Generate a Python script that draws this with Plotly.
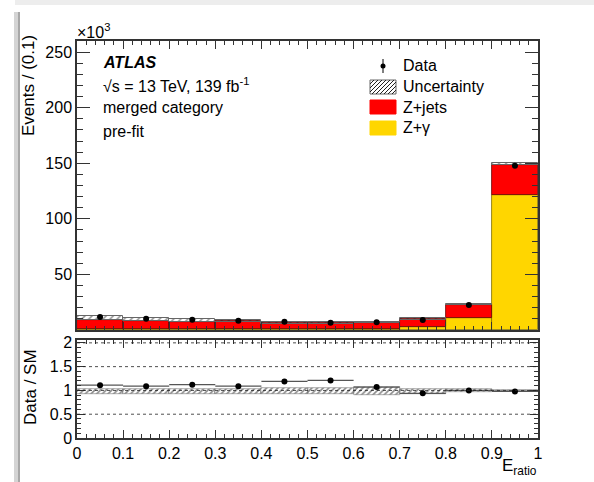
import plotly.graph_objects as go

# ---------------- data (values in thousands of events) ----------------
bin_centers = [0.05, 0.15, 0.25, 0.35, 0.45, 0.55, 0.65, 0.75, 0.85, 0.95]
zgamma = [0.7, 0.6, 0.6, 0.6, 0.6, 0.7, 0.9, 2.7, 11.1, 121.9]
zjets = [8.3, 7.5, 6.6, 7.1, 5.4, 5.3, 5.7, 6.9, 11.4, 26.7]
unc_lo = [8.6, 7.7, 6.8, 7.3, 5.6, 5.6, 6.2, 9.2, 22.1, 148.0]
unc_hi = [12.3, 10.8, 9.6, 8.6, 7.5, 7.0, 7.2, 10.5, 23.4, 149.8]
data = [11.7, 10.2, 9.3, 8.4, 7.5, 6.6, 6.9, 9.0, 22.5, 147.7]

ratio = [1.11, 1.09, 1.12, 1.09, 1.19, 1.21, 1.07, 0.94, 1.00, 0.98]
ratio_lo = [0.93, 0.93, 0.93, 0.93, 0.92, 0.92, 0.91, 0.93, 0.97, 0.98]
ratio_hi = [1.04, 1.04, 1.04, 1.04, 1.05, 1.05, 1.07, 1.02, 1.02, 1.01]

main_yticks = [50, 100, 150, 200, 250]
ratio_yticks = [0, 0.5, 1, 1.5, 2]
ratio_ylabels = ["0", "0.5", "1", "1.5", "2"]
xticks = [0, 0.1, 0.2, 0.3, 0.4, 0.5, 0.6, 0.7, 0.8, 0.9, 1.0]
xlabels = ["0", "0.1", "0.2", "0.3", "0.4", "0.5", "0.6", "0.7", "0.8", "0.9", "1"]

legend_labels = ["Data", "Uncertainty", "Z+jets", "Z+γ"]

# ---------------- styling ----------------
RED = "#FF0000"
YELLOW = "#FFD600"
FONT = "Liberation Sans, Arial, sans-serif"
W, H = 594, 482
ML, MR, MT, MB = 77, 56, 41, 44
PW, PH = W - ML - MR, H - MT - MB


def px(xp):
    return (xp - ML) / PW


def py(yp):
    return (H - MB - yp) / PH


fig = go.Figure()

zjets_base = list(zgamma)
hatch = dict(shape="/", fgcolor="#222", bgcolor="rgba(0,0,0,0)", size=5,
             solidity=0.3, fillmode="overlay")

fig.add_trace(go.Bar(x=bin_centers, y=zgamma, base=[0] * len(zgamma), width=0.1,
                     marker=dict(color=YELLOW, line=dict(color="#7a6a00", width=0.8)),
                     xaxis="x", yaxis="y", showlegend=False))
fig.add_trace(go.Bar(x=bin_centers, y=zjets, base=zjets_base, width=0.1,
                     marker=dict(color=RED, line=dict(color="#660000", width=0.8)),
                     xaxis="x", yaxis="y", showlegend=False))
fig.add_trace(go.Bar(x=bin_centers, y=[h - l for h, l in zip(unc_hi, unc_lo)], base=unc_lo,
                     width=0.1,
                     marker=dict(color="rgba(120,120,120,0.3)", pattern=hatch,
                                 line=dict(color="#666", width=1)),
                     xaxis="x", yaxis="y", showlegend=False))
fig.add_trace(go.Scatter(x=bin_centers, y=data, mode="markers",
                         marker=dict(color="black", size=6),
                         xaxis="x", yaxis="y", showlegend=False))

# ratio panel
fig.add_trace(go.Bar(x=bin_centers, y=[h - l for h, l in zip(ratio_hi, ratio_lo)], base=ratio_lo,
                     width=0.1,
                     marker=dict(color="rgba(0,0,0,0)",
                                 pattern=dict(shape="/", fgcolor="#111", bgcolor="rgba(0,0,0,0)",
                                              size=4, solidity=0.4, fillmode="overlay"),
                                 line=dict(color="#777", width=0.6)),
                     xaxis="x2", yaxis="y2", showlegend=False))
fig.add_trace(go.Scatter(x=bin_centers, y=ratio, mode="markers",
                         marker=dict(color="black", size=6),
                         error_x=dict(type="constant", value=0.05, color="#555", thickness=1.3, width=0),
                         xaxis="x2", yaxis="y2", showlegend=False))

fig.update_layout(barmode="overlay", bargap=0)

ax_common = dict(showline=True, linecolor="#333", linewidth=1.5, mirror="allticks",
                 ticks="inside", tickcolor="#333", showgrid=False, zeroline=False,
                 tickfont=dict(family=FONT, size=16, color="black"))

d_main = (H - MB - 330) / PH
d_ratio = (H - MB - 340) / PH

fig.update_layout(
    width=W, height=H,
    margin=dict(l=ML, r=MR, t=MT, b=MB),
    paper_bgcolor="white", plot_bgcolor="white",
    font=dict(family=FONT, color="black"),
    xaxis=dict(ax_common, domain=[0, 1], range=[0, 1], anchor="y", tickvals=xticks,
               showticklabels=False, ticklen=8,
               minor=dict(dtick=0.02, tick0=0, ticks="inside", ticklen=4, tickcolor="#333")),
    yaxis=dict(ax_common, domain=[d_main, 1], range=[0, 260], anchor="x",
               tickvals=main_yticks, ticklen=13,
               minor=dict(dtick=10, tick0=0, ticks="inside", ticklen=6, tickcolor="#333")),
    xaxis2=dict(ax_common, domain=[0, 1], range=[0, 1], anchor="y2", tickvals=xticks,
                ticktext=xlabels, ticklen=8,
                minor=dict(dtick=0.02, tick0=0, ticks="inside", ticklen=4, tickcolor="#333")),
    yaxis2=dict(ax_common, domain=[0, d_ratio], range=[0, 2.06], anchor="x2",
                tickvals=ratio_yticks, ticktext=ratio_ylabels, ticklen=8,
                minor=dict(dtick=0.1, tick0=0, ticks="inside", ticklen=4, tickcolor="#333")),
)

shapes = []
# dotted reference lines in ratio panel
for yv in [0.5, 1.0, 1.5, 2.0]:
    shapes.append(dict(type="line", xref="x2", yref="y2", x0=0, x1=1, y0=yv, y1=yv,
                       line=dict(color="#222", width=0.8, dash="dot")))

# page decoration (window shadow)
shapes.append(dict(type="rect", xref="paper", yref="paper", x0=px(15), x1=px(W), y0=py(0), y1=py(5),
                   fillcolor="#ededed", line=dict(width=0), layer="below"))
shapes.append(dict(type="rect", xref="paper", yref="paper", x0=px(14), x1=px(20), y0=py(H), y1=py(12),
                   fillcolor="#d4d4d4", line=dict(width=0), layer="below"))
shapes.append(dict(type="line", xref="paper", yref="paper", x0=px(19), x1=px(19), y0=py(H), y1=py(12),
                   line=dict(color="#9a9a9a", width=1.5), layer="below"))

# legend boxes
bx0, bx1 = 370, 396
leg_y = [66, 87, 107, 128]
uy0, uy1 = leg_y[1] - 7, leg_y[1] + 7
shapes.append(dict(type="rect", xref="paper", yref="paper", x0=px(bx0), x1=px(bx1), y0=py(uy1), y1=py(uy0),
                   fillcolor="white", line=dict(color="#666", width=1)))
step = 4
k = bx0 - (uy1 - uy0)
while k < bx1:
    xa, ya = k, uy1
    xb, yb = k + (uy1 - uy0), uy0
    if xa < bx0:
        ya = uy1 - (bx0 - xa)
        xa = bx0
    if xb > bx1:
        yb = uy0 + (xb - bx1)
        xb = bx1
    if xb > xa:
        shapes.append(dict(type="line", xref="paper", yref="paper", x0=px(xa), y0=py(ya),
                           x1=px(xb), y1=py(yb), line=dict(color="#222", width=1)))
    k += step
for yc, col in [(leg_y[2], RED), (leg_y[3], YELLOW)]:
    shapes.append(dict(type="rect", xref="paper", yref="paper", x0=px(bx0), x1=px(bx1),
                       y0=py(yc + 7), y1=py(yc - 7), fillcolor=col, line=dict(color=col, width=1)))
shapes.append(dict(type="line", xref="paper", yref="paper", x0=px(383), x1=px(383),
                   y0=py(leg_y[0] + 7), y1=py(leg_y[0] - 7), line=dict(color="black", width=1)))
shapes.append(dict(type="circle", xref="paper", yref="paper", x0=px(380.5), x1=px(385.5),
                   y0=py(leg_y[0] + 2.5), y1=py(leg_y[0] - 2.5), fillcolor="black",
                   line=dict(color="black", width=0)))
fig.update_layout(shapes=shapes)

ann = []


def text(x, y, s, size=16, xanchor="left", yanchor="middle", angle=0):
    ann.append(dict(xref="paper", yref="paper", x=px(x), y=py(y), text=s, showarrow=False,
                    xanchor=xanchor, yanchor=yanchor, textangle=angle,
                    font=dict(family=FONT, size=size, color="black")))


text(101, 62, "<b><i>ATLAS</i></b>", size=16)
text(101, 85, "√s = 13 TeV, 139 fb<sup>-1</sup>", size=16)
text(101, 108, "merged category", size=16)
text(101, 131, "pre-fit", size=16)
text(75, 43, "×10<sup>3</sup>", size=16, yanchor="bottom")
for lab, yy in zip(legend_labels, leg_y):
    text(401, yy, lab, size=16)
text(28, 86, "Events / (0.1)", size=17, xanchor="center", angle=-90)
text(30, 387, "Data / SM", size=17, xanchor="center", angle=-90)
text(539, 467, "E<sub>ratio</sub>", size=17, xanchor="right")
fig.update_layout(annotations=ann)

fig.write_html("out.html", config={"displayModeBar": False},
               post_script="document.body.style.margin='0';document.body.style.overflow='hidden';")
